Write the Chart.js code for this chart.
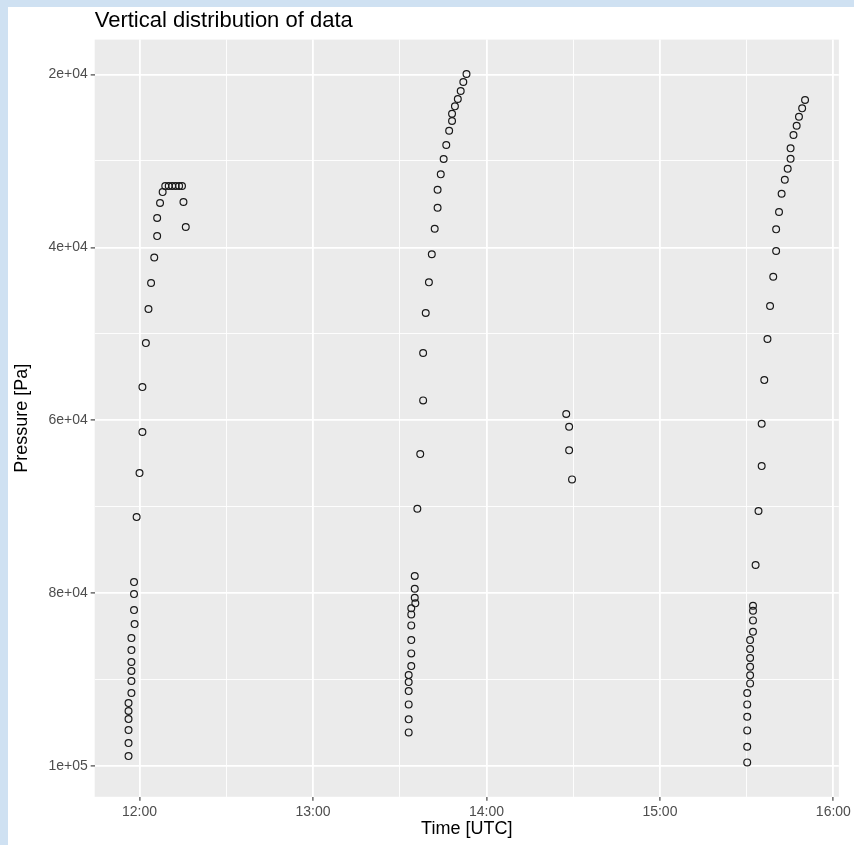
<!DOCTYPE html>
<html>
<head>
<meta charset="utf-8">
<script src="https://cdn.jsdelivr.net/npm/chart.js@4"></script>
<style>
  html, body { margin: 0; padding: 0; background: #cfe1f2; }
  body { width: 854px; height: 845px; position: relative; overflow: hidden; }
  #wrap { position: absolute; left: 8px; top: 7px; width: 846px; height: 838px; background: #ffffff; }
  canvas { display: block; }
</style>
</head>
<body>
<div id="wrap"><canvas id="c" width="846" height="838"></canvas></div>
<script>
// ---- data (time in minutes after 00:00 UTC, pressure in Pa) ----
const sounding1Time = [716.2,716.2,716.2,716.2,716.2,716.2,717.2,717.2,717.2,717.2,717.2,717.2,718.3,718.1,718.1,718.1,719.0,720.0,721.0,721.0,722.2,723.1,724.0,725.1,726.1,726.1,727.1,728.0,728.9,730.1,731.3,732.5,733.7,734.7,735.2,736.0];
const sounding1Pressure = [98850,97350,95840,94570,93640,92720,91560,90170,89010,87970,86590,85200,83580,81960,80110,78720,71200,66110,61360,56160,51070,47130,44120,41170,38690,36600,34870,33600,32900,32900,32900,32900,32900,32900,34750,37640];

const sounding2Time = [813.1,813.1,813.1,813.1,813.1,813.1,814.0,814.0,814.0,814.0,814.0,814.0,815.4,815.2,815.2,815.2,816.1,817.1,818.1,818.1,819.0,820.1,821.1,822.1,823.1,823.1,824.2,825.2,826.1,827.1,828.1,828.1,829.1,830.1,831.1,832.0,833.1];
const sounding2Pressure = [96110,94600,92870,91330,90290,89480,88440,86970,85430,83730,82460,81760,81180,80530,79490,78020,70240,63910,57700,52220,47590,44040,40790,37840,35410,33330,31550,29780,28160,26500,25380,24540,23680,22830,21910,20870,19940];

const sounding3Time = [867.6,868.6,868.6,869.6];
const sounding3Pressure = [59280,60750,63480,66840];

const sounding4Time = [930.2,930.2,930.2,930.2,930.2,930.2,931.2,931.2,931.2,931.2,931.2,931.2,932.2,932.2,932.2,932.2,933.1,934.1,935.2,935.2,936.1,937.2,938.1,939.2,940.2,940.2,941.2,942.1,943.2,944.2,945.2,945.2,946.2,947.3,948.1,949.2,950.2];
const sounding4Pressure = [99580,97770,95880,94300,92870,91560,90440,89510,88520,87510,86470,85430,84470,83150,82040,81460,76750,70500,65300,60400,55350,50600,46780,43390,40420,37910,35910,33790,32170,30900,29740,28540,27000,25920,24880,23910,22950];

const xTickValues = [720, 780, 840, 900, 960];
const xTickLabels = ["12:00", "13:00", "14:00", "15:00", "16:00"];
const xMinorValues = [750, 810, 870, 930];
const yTickValues = [20000, 40000, 60000, 80000, 100000];
const yTickLabels = ["2e+04", "4e+04", "6e+04", "8e+04", "1e+05"];
const yMinorValues = [30000, 50000, 70000, 90000];

const chartTitle = "Vertical distribution of data";
const xTitle = "Time [UTC]";
const yTitle = "Pressure [Pa]";

// ---- build points ----
function pairs(t, p) { return t.map((v, i) => ({ x: v, y: p[i] })); }
const points = [].concat(
  pairs(sounding1Time, sounding1Pressure),
  pairs(sounding2Time, sounding2Pressure),
  pairs(sounding3Time, sounding3Pressure),
  pairs(sounding4Time, sounding4Pressure)
);

const panelBg = {
  id: 'panelBg',
  beforeDraw(chart) {
    const a = chart.chartArea, ctx = chart.ctx;
    ctx.save();
    ctx.fillStyle = '#ebebeb';
    ctx.fillRect(a.left, a.top, a.right - a.left, a.bottom - a.top);
    ctx.restore();
  }
};

const isMajorX = v => xTickValues.includes(v);
const isMajorY = v => yTickValues.includes(v);
const FONT = 'Liberation Sans, Arial, sans-serif';

new Chart(document.getElementById('c'), {
  type: 'scatter',
  data: {
    datasets: [{
      data: points,
      pointStyle: 'circle',
      pointRadius: 3.4,
      pointBorderWidth: 1.2,
      borderColor: '#1a1a1a',
      backgroundColor: 'rgba(0,0,0,0)',
      pointBackgroundColor: 'rgba(0,0,0,0)'
    }]
  },
  plugins: [panelBg],
  options: {
    responsive: false,
    devicePixelRatio: 1,
    animation: false,
    events: [],
    layout: { padding: { left: 0, right: 6.5, top: 0, bottom: 0 } },
    plugins: {
      legend: { display: false },
      tooltip: { enabled: false },
      title: {
        display: true,
        text: chartTitle,
        align: 'start',
        fullSize: false,
        color: '#000000',
        font: { family: FONT, size: 22, weight: 'normal', lineHeight: 1.2 },
        padding: { top: 0.8, bottom: 5.4 }
      }
    },
    scales: {
      x: {
        type: 'linear',
        min: 704.5,
        max: 961.9,
        border: { display: false },
        afterBuildTicks: s => {
          s.ticks = xTickValues.concat(xMinorValues).sort((a, b) => a - b).map(v => ({ value: v }));
        },
        grid: {
          color: '#ffffff',
          lineWidth: c => isMajorX(c.tick.value) ? 1.8 : 0.9,
          tickColor: c => isMajorX(c.tick.value) ? '#333333' : 'rgba(0,0,0,0)',
          tickWidth: 1.1,
          tickLength: 4,
          drawTicks: true
        },
        ticks: {
          autoSkip: false,
          maxRotation: 0,
          padding: 3,
          color: '#4d4d4d',
          font: { family: FONT, size: 14 },
          callback: v => { const i = xTickValues.indexOf(v); return i >= 0 ? xTickLabels[i] : ''; }
        },
        title: {
          display: true,
          text: xTitle,
          color: '#000000',
          font: { family: FONT, size: 18 },
          padding: { top: 0, bottom: 5.2 }
        },
        afterFit: s => { s.height = 48.2; }
      },
      y: {
        type: 'linear',
        reverse: true,
        min: 15958,
        max: 103561,
        border: { display: false },
        afterBuildTicks: s => {
          s.ticks = yTickValues.concat(yMinorValues).sort((a, b) => a - b).map(v => ({ value: v }));
        },
        grid: {
          color: '#ffffff',
          lineWidth: c => isMajorY(c.tick.value) ? 1.8 : 0.9,
          tickColor: c => isMajorY(c.tick.value) ? '#333333' : 'rgba(0,0,0,0)',
          tickWidth: 1.1,
          tickLength: 4,
          drawTicks: true
        },
        ticks: {
          autoSkip: false,
          padding: 3,
          color: '#4d4d4d',
          font: { family: FONT, size: 14 },
          callback: v => { const i = yTickValues.indexOf(v); return i >= 0 ? yTickLabels[i] : ''; }
        },
        title: {
          display: true,
          text: yTitle,
          color: '#000000',
          font: { family: FONT, size: 18 },
          padding: { top: 3.2, bottom: 0 }
        },
        afterFit: s => { s.width = 86.7; }
      }
    }
  }
});
</script>
</body>
</html>
